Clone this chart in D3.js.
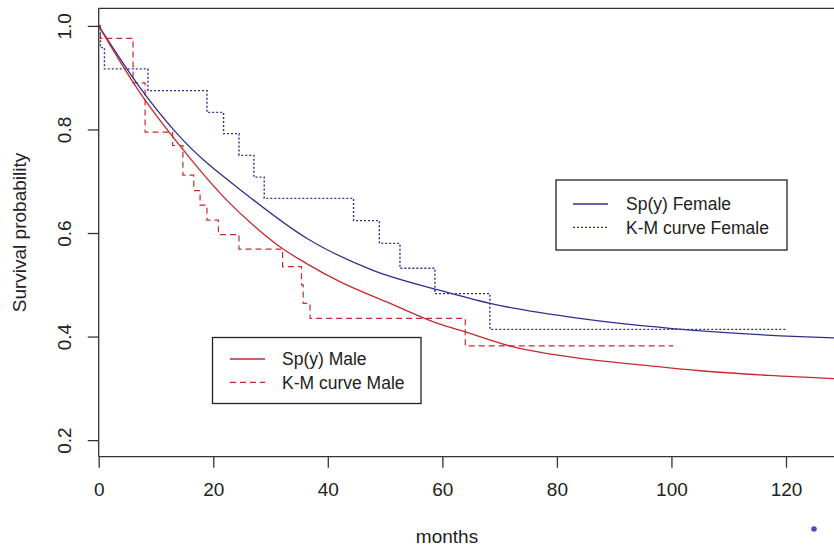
<!DOCTYPE html>
<html>
<head>
<meta charset="utf-8">
<script src="https://cdn.jsdelivr.net/npm/d3@7"></script>
<style>
  body { margin: 0; background: #fff; }
  svg text { font-family: "Liberation Sans", Arial, sans-serif; fill: #222; }
</style>
</head>
<body>
<div id="chart"></div>
<script>
// fitted curves Sp(y)
var femaleFitMonths = [0, 7.2, 13.6, 27, 36.3, 47.9, 59.3, 68.3, 84, 99.7, 110.2, 122.4, 130];
var femaleFitSurv   = [1.0, 0.881, 0.793, 0.664, 0.590, 0.528, 0.490, 0.464, 0.435, 0.416, 0.407, 0.400, 0.397];
var maleFitMonths = [0, 6.9, 14.8, 22.3, 27, 32.2, 36.3, 42.1, 50.9, 59.3, 64, 72.4, 84, 95, 105, 117, 130];
var maleFitSurv   = [1.0, 0.876, 0.760, 0.664, 0.615, 0.569, 0.541, 0.506, 0.464, 0.425, 0.409, 0.380, 0.358, 0.345, 0.334, 0.325, 0.318];

// Kaplan-Meier steps (time of drop, survival after drop)
var femaleKmTimes = [0, 0.3, 1.0, 8.6, 18.9, 21.8, 24.5, 27.1, 28.9, 44.5, 49.0, 52.6, 58.7, 68.3];
var femaleKmSurv  = [1.0, 0.958, 0.917, 0.875, 0.833, 0.792, 0.750, 0.708, 0.667, 0.624, 0.580, 0.532, 0.483, 0.414];
var femaleKmEnd = 120.0;
var maleKmTimes = [0, 0.3, 6.0, 8.1, 12.9, 14.7, 16.6, 17.7, 18.9, 20.9, 24.5, 32.1, 35.4, 35.7, 36.9, 64.0];
var maleKmSurv  = [1.0, 0.976, 0.890, 0.795, 0.769, 0.712, 0.682, 0.654, 0.625, 0.597, 0.569, 0.535, 0.500, 0.464, 0.435, 0.382];
var maleKmEnd = 100.3;

var xTicks = [0, 20, 40, 60, 80, 100, 120];
var yTicks = [0.2, 0.4, 0.6, 0.8, 1.0];

var blue = "#2e2e92", red = "#c62a2e";

var width = 834, height = 552;
var margin = {top: 8.3, left: 98.7, bottom: 456.7};

var svg = d3.select("#chart").append("svg")
    .attr("width", width)
    .attr("height", height);

var x = d3.scaleLinear().domain([0, 130]).range([margin.left, margin.left + 130 * 5.7275]);
var y = d3.scaleLinear().domain([0.168, 1.034]).range([margin.bottom, margin.top]);

svg.append("clipPath").attr("id", "plotclip")
  .append("rect")
    .attr("x", margin.left).attr("y", margin.top)
    .attr("width", width - margin.left).attr("height", margin.bottom - margin.top);

var plot = svg.append("g").attr("clip-path", "url(#plotclip)");

function pairs(a, b) { return a.map(function(d, i) { return [d, b[i]]; }); }

var smooth = d3.line()
    .x(function(d) { return x(d[0]); })
    .y(function(d) { return y(d[1]); })
    .curve(d3.curveMonotoneX);
var step = d3.line()
    .x(function(d) { return x(d[0]); })
    .y(function(d) { return y(d[1]); })
    .curve(d3.curveStepAfter);

function kmPoints(t, s, end) {
  var p = pairs(t, s);
  p.push([end, s[s.length - 1]]);
  return p;
}

// K-M curves
plot.append("path")
    .attr("d", step(kmPoints(femaleKmTimes, femaleKmSurv, femaleKmEnd)))
    .attr("fill", "none").attr("stroke", blue)
    .attr("stroke-width", 1.4).attr("stroke-dasharray", "2,2");
plot.append("path")
    .attr("d", step(kmPoints(maleKmTimes, maleKmSurv, maleKmEnd)))
    .attr("fill", "none").attr("stroke", red)
    .attr("stroke-width", 1.2).attr("stroke-dasharray", "6,4");

// fitted curves
plot.append("path")
    .attr("d", smooth(pairs(femaleFitMonths, femaleFitSurv)))
    .attr("fill", "none").attr("stroke", blue).attr("stroke-width", 1.3);
plot.append("path")
    .attr("d", smooth(pairs(maleFitMonths, maleFitSurv)))
    .attr("fill", "none").attr("stroke", red).attr("stroke-width", 1.3);

// box (left, top)
svg.append("line")
    .attr("x1", margin.left).attr("x2", margin.left)
    .attr("y1", margin.top).attr("y2", margin.bottom)
    .attr("stroke", "#333").attr("stroke-width", 1.3);
svg.append("line")
    .attr("x1", margin.left).attr("x2", width)
    .attr("y1", margin.top).attr("y2", margin.top)
    .attr("stroke", "#333").attr("stroke-width", 1.3);

// x axis
var xaxis = svg.append("g")
    .attr("transform", "translate(0," + margin.bottom + ")")
    .call(d3.axisBottom(x).tickValues(xTicks).tickSize(11).tickPadding(15).tickSizeOuter(0));
xaxis.select(".domain").attr("d", "M" + margin.left + ",0H" + width).attr("stroke", "#333").attr("stroke-width", 1.3);
xaxis.selectAll(".tick line").attr("stroke", "#333").attr("stroke-width", 1.3);
xaxis.selectAll(".tick text").style("font-size", "19px").attr("fill", "#222");

// y axis
var yaxis = svg.append("g")
    .attr("transform", "translate(" + margin.left + ",0)")
    .call(d3.axisLeft(y).tickValues(yTicks).tickSize(11).tickFormat(d3.format(".1f")).tickSizeOuter(0));
yaxis.select(".domain").remove();
yaxis.selectAll(".tick line").attr("stroke", "#333").attr("stroke-width", 1.3);
yaxis.selectAll(".tick text")
    .style("font-size", "19px").attr("fill", "#222")
    .attr("x", 0).attr("dy", 0)
    .attr("text-anchor", "middle")
    .attr("transform", "translate(-27.5,0) rotate(-90)");

// axis titles
svg.append("text")
    .attr("x", 447).attr("y", 543)
    .attr("text-anchor", "middle")
    .style("font-size", "19px")
    .text("months");
svg.append("text")
    .attr("transform", "translate(26," + ((margin.top + margin.bottom) / 2) + ") rotate(-90)")
    .attr("text-anchor", "middle")
    .style("font-size", "19px")
    .text("Survival probability");

// legends
function legend(box, rows) {
  var g = svg.append("g");
  g.append("rect")
      .attr("x", box.x).attr("y", box.y)
      .attr("width", box.w).attr("height", box.h)
      .attr("fill", "#fff").attr("stroke", "#222").attr("stroke-width", 1.3);
  rows.forEach(function(r, i) {
    var yy = box.rowY + i * 23.3;
    g.append("line")
        .attr("x1", box.lx1).attr("x2", box.lx2)
        .attr("y1", yy).attr("y2", yy)
        .attr("stroke", r.color).attr("stroke-width", 1.3)
        .attr("stroke-dasharray", r.dash);
    g.append("text")
        .attr("x", box.tx).attr("y", yy).attr("dy", "0.36em")
        .style("font-size", "17.5px")
        .text(r.label);
  });
}
legend({x: 556, y: 180, w: 231, h: 70, rowY: 204, lx1: 573, lx2: 608, tx: 626},
  [{label: "Sp(y) Female", color: blue, dash: null},
   {label: "K-M curve Female", color: blue, dash: "2,2"}]);
legend({x: 212.5, y: 337.5, w: 208.5, h: 66, rowY: 359, lx1: 230, lx2: 265, tx: 282},
  [{label: "Sp(y) Male", color: red, dash: null},
   {label: "K-M curve Male", color: red, dash: "6,4"}]);

// stray dot in the lower right corner
svg.append("circle").attr("cx", 814).attr("cy", 529).attr("r", 2.8).attr("fill", "#4a4ad0");
</script>
</body>
</html>
